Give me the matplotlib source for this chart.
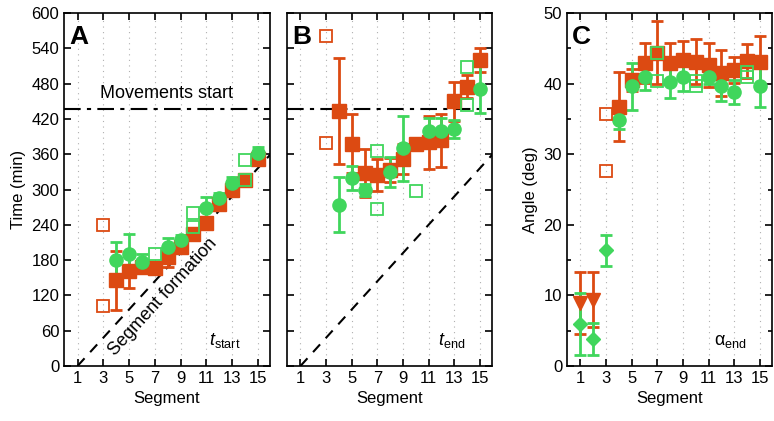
import numpy as np
import matplotlib
matplotlib.use('Agg')
import matplotlib.pyplot as plt

plt.rcParams['font.family'] = ['Liberation Sans', 'DejaVu Sans']
plt.rcParams['mathtext.fontset'] = 'custom'
plt.rcParams['mathtext.rm'] = 'Liberation Sans'
plt.rcParams['mathtext.it'] = 'Liberation Sans:italic'
plt.rcParams['font.size'] = 12

# panel A : t_start (min)
a_org_x = [4, 5, 6, 7, 8, 9, 10, 11, 12, 13, 14, 15]
a_org = [146, 162, 168, 167, 186, 203, 224, 243, 276, 300, 316, 352]
a_org_err = [50, 30, 8, 10, 18, 10, 10, 8, 8, 8, 5, 8]
a_grn_x = [4, 5, 6, 8, 9, 11, 12, 13, 15]
a_grn = [180, 190, 177, 203, 214, 269, 286, 311, 362]
a_grn_err = [30, 35, 13, 15, 8, 18, 8, 10, 10]
a_org_open_x = [3, 3]
a_org_open = [240, 102]
a_grn_open_x = [7, 10, 10, 14, 14]
a_grn_open = [190, 260, 236, 350, 316]

# panel B : t_end (min)
b_org_x = [4, 5, 6, 7, 8, 9, 10, 11, 12, 13, 14, 15]
b_org = [434, 378, 328, 325, 333, 352, 377, 380, 384, 450, 475, 520]
b_org_err = [90, 50, 40, 27, 20, 25, 10, 45, 45, 33, 20, 20]
b_grn_x = [4, 5, 6, 8, 9, 11, 12, 13, 15]
b_grn = [274, 320, 299, 330, 370, 400, 400, 403, 470]
b_grn_err = [47, 20, 10, 25, 55, 22, 22, 15, 40]
b_org_open_x = [3, 3]
b_org_open = [561, 379]
b_grn_open_x = [7, 7, 10, 14, 14]
b_grn_open = [365, 267, 298, 509, 443]

# panel C : alpha_end (deg)
c_org_x = [4, 5, 6, 7, 8, 9, 10, 11, 12, 13, 14, 15]
c_org = [36.7, 40.5, 42.9, 44.4, 42.9, 43.4, 43.1, 42.6, 41.5, 41.9, 43.2, 43.1]
c_org_err = [4.9, 1.5, 2.8, 4.4, 2.9, 2.6, 3.2, 3.1, 3.3, 1.8, 2.4, 3.6]
c_grn_x = [4, 5, 6, 8, 9, 11, 12, 13, 15]
c_grn = [34.8, 39.6, 40.9, 40.2, 40.9, 40.9, 39.7, 38.8, 39.7]
c_grn_err = [1.2, 3.3, 1.8, 2.3, 1.9, 1.0, 2.1, 1.7, 3.0]
c_org_open_x = [3, 3]
c_org_open = [35.7, 27.6]
c_grn_open_x = [7, 7, 10, 10, 14, 14]
c_grn_open = [44.4, 40.3, 40.4, 39.6, 41.7, 41.0]
c_tri_x = [1, 2]
c_tri = [8.9, 9.4]
c_tri_err = [4.4, 3.9]
c_dia_x = [1, 2, 3]
c_dia = [5.9, 3.8, 16.4]
c_dia_err = [4.4, 2.3, 2.2]

move_start = 437
seg_rate = 24  # min per segment

ORG = '#DC4A12'
GRN = '#40D65C'

fig = plt.figure(figsize=(7.74, 4.21), dpi=100)
W, H = 774., 421.
def box(l, r, t=13, b=366):
    return [l / W, (H - b) / H, (r - l) / W, (b - t) / H]

axA = fig.add_axes(box(64, 270))
axB = fig.add_axes(box(287, 492))
axC = fig.add_axes(box(567, 772))


def errs(ax, x, y, e, c, m, ms=9.5):
    ax.errorbar(x, y, yerr=e, fmt=m, color=c, ms=ms, mec=c, elinewidth=2,
                capsize=4, capthick=2, zorder=3)


def opens(ax, x, y, c):
    ax.plot(x, y, 's', ms=8, mfc='none', mec=c, mew=1.3, zorder=4)


def style(ax):
    ax.set_xlim(-0.05, 15.95)
    ax.set_xticks(range(1, 16, 2))
    ax.tick_params(direction='in', top=True, right=True, length=5, width=1.2)
    ax.tick_params(which='minor', direction='in', top=True, right=True, length=3, width=1.2)
    for s in ax.spines.values():
        s.set_linewidth(1.2)
    for xv in range(1, 16, 2):
        ax.axvline(xv, color='#b0b0b0', ls=(0, (1, 4)), lw=0.8, zorder=0)
    ax.set_xlabel('Segment')


xs = np.array([1, 16])
for ax, ox, oy, oe, gx, gy, ge, oox, ooy, gox, goy in [
        (axA, a_org_x, a_org, a_org_err, a_grn_x, a_grn, a_grn_err,
         a_org_open_x, a_org_open, a_grn_open_x, a_grn_open),
        (axB, b_org_x, b_org, b_org_err, b_grn_x, b_grn, b_grn_err,
         b_org_open_x, b_org_open, b_grn_open_x, b_grn_open)]:
    style(ax)
    ax.set_ylim(0, 600)
    ax.set_yticks(range(0, 601, 60))
    ax.plot(xs, (xs - 1) * seg_rate, color='k', ls=(0, (5, 4)), lw=1.5, zorder=2)
    ax.axhline(move_start, color='k', ls=(0, (8, 3, 2, 3)), lw=1.5, zorder=2)
    opens(ax, oox, ooy, ORG)
    errs(ax, ox, oy, oe, ORG, 's')
    errs(ax, gx, gy, ge, GRN, 'o')
    opens(ax, gox, goy, GRN)

axA.set_ylabel('Time (min)')
axB.set_yticklabels([])
axA.text(7.95, 449, 'Movements start', ha='center', va='bottom', fontsize=13)
axA.text(7.65, 118, 'Segment formation', rotation=47.7, ha='center', va='center', fontsize=13)
axA.text(11.2, 35, r'$t_{\mathrm{start}}$', fontsize=13)
axB.text(11.7, 35, r'$t_{\mathrm{end}}$', fontsize=13)
axA.text(0.35, 560, 'A', fontsize=19, fontweight='bold', va='center')
axB.text(0.35, 560, 'B', fontsize=19, fontweight='bold', va='center')

style(axC)
axC.set_ylim(0, 50)
axC.set_yticks(range(0, 51, 10))
axC.set_yticks(range(5, 50, 10), minor=True)
axC.set_ylabel('Angle (deg)')
opens(axC, c_org_open_x, c_org_open, ORG)
errs(axC, c_org_x, c_org, c_org_err, ORG, 's')
errs(axC, c_tri_x, c_tri, c_tri_err, ORG, 'v')
errs(axC, c_grn_x, c_grn, c_grn_err, GRN, 'o')
errs(axC, c_dia_x, c_dia, c_dia_err, GRN, 'D', ms=7)
opens(axC, c_grn_open_x, c_grn_open, GRN)
axC.text(11.4, 3.0, r'$\mathrm{α}_{\mathrm{end}}$', fontsize=13)
axC.text(0.35, 46.6, 'C', fontsize=19, fontweight='bold', va='center')

fig.savefig('out.png', dpi=100)
